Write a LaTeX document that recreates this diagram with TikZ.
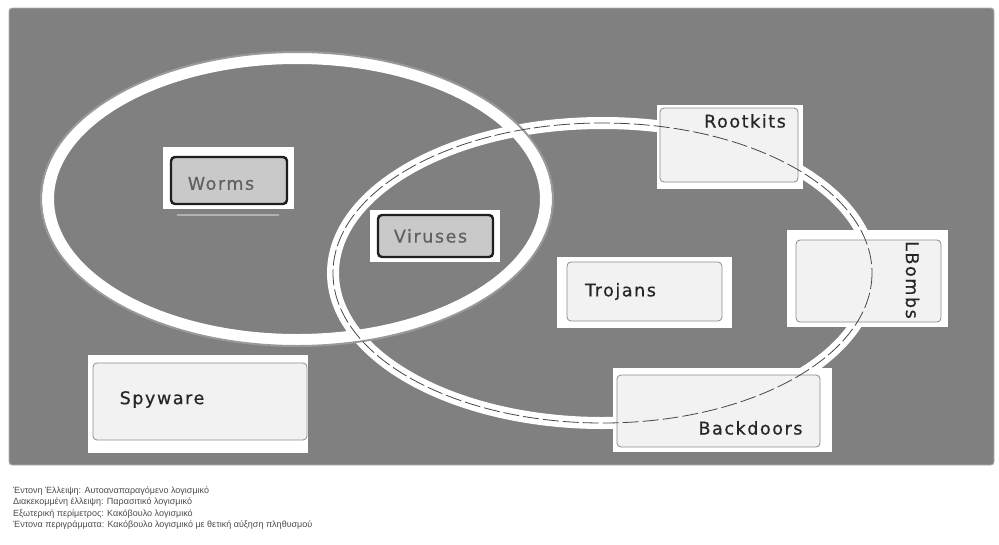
\documentclass[tikz,border=0pt]{standalone}
\usepackage{fontspec}
\setmainfont{DejaVu Sans}
\newfontfamily\boxfont[LetterSpace=9,FakeBold=0.6]{DejaVu Sans}
\newfontfamily\legendfont{Liberation Sans}
\begin{document}
\begin{tikzpicture}[x=1pt,y=-1pt,
  halo/.style={fill=white,draw=none},
  hotbox/.style={draw=black!88,line width=2.4pt,fill=black!21,rounded corners=4pt},
  plainbox/.style={draw=black!45,line width=0.8pt,fill=black!5,rounded corners=4pt},
  lbl/.style={font=\boxfont\fontsize{17.5}{20}\selectfont,text=black!85,inner sep=0pt},
  hotlbl/.style={lbl,text=black!62},
  selfrep/.style={draw=black!40,line width=2pt},
  parasitic/.style={draw=black!72,line width=0.8pt,dash pattern=on 16pt off 4pt},
  legend/.style={font=\legendfont\fontsize{9}{11}\selectfont,text=black!70,anchor=west,inner sep=0pt}]
\useasboundingbox (0,0) rectangle (999,544);
\fill[white] (0,0) rectangle (999,544);

% malware panel
\draw[fill=black!50,draw=black!30,line width=0.8pt,rounded corners=3pt] (9,8) rectangle (994,465);

% light bands following the two ellipses
\draw[white,line width=12pt] (297,199) ellipse [x radius=249,y radius=141];
\draw[white,line width=12pt] (602.5,273) ellipse [x radius=269.5,y radius=150];

% light margins round the boxes
\fill[halo] (163,147) rectangle (294,209);
\fill[halo] (370,210) rectangle (500,262);
\fill[halo] (657,105) rectangle (803,189);
\fill[halo] (787,230) rectangle (948,327);
\fill[halo] (557,257) rectangle (732,328);
\fill[halo] (613,368) rectangle (832,452);
\fill[halo] (88,355) rectangle (308,453);
\draw[black!30,line width=2pt] (177,215) -- (279,215);

% boxes
\path[hotbox] (171,157) rectangle (287,204);
\node[inner sep=0pt] (worms) at (229,180.5) {};
\path[hotbox] (378,215) rectangle (493,257);
\node[inner sep=0pt] (viruses) at (435.5,236) {};
\path[plainbox] (660,108) rectangle (798,182);
\node[inner sep=0pt] (rootkits) at (729,145) {};
\path[plainbox] (796,240) rectangle (941,322);
\node[inner sep=0pt] (lbombs) at (868.5,281) {};
\path[plainbox] (567,262) rectangle (722,321);
\node[inner sep=0pt] (trojans) at (644.5,291.5) {};
\path[plainbox] (617,375) rectangle (820,447);
\node[inner sep=0pt] (backdoors) at (718.5,411) {};
\path[plainbox] (93,363) rectangle (307,440);
\node[inner sep=0pt] (spyware) at (200,401.5) {};

% self-replicating (solid) and parasitic (dashed) ellipses
\draw[selfrep] (297,199) ellipse [x radius=256,y radius=147];
\draw[parasitic] (602.5,273) ellipse [x radius=269.5,y radius=150];

% labels
\node[hotlbl] (tworms) at ([shift={(-8,3)}]worms) {Worms};
\node[hotlbl] (tviruses) at ([shift={(-5,0)}]viruses) {Viruses};
\node[lbl] (trootkits) at ([shift={(16,-24)}]rootkits) {Rootkits};
\node[lbl,rotate=-90] (tlbombs) at ([shift={(44,-1)}]lbombs) {LBombs};
\node[lbl] (ttrojans) at ([shift={(-24,0)}]trojans) {Trojans};
\node[lbl] (tbackdoors) at ([shift={(32,17)}]backdoors) {Backdoors};
\node[lbl] (tspyware) at ([shift={(-38,-2)}]spyware) {Spyware};

% legend
\node[legend] (leg1) at (13,491) {Έντονη Έλλειψη: Αυτοαναπαραγόμενο λογισμικό};
\node[legend] (leg2) at (13,502.5) {Διακεκομμένη έλλειψη: Παρασιτικό λογισμικό};
\node[legend] (leg3) at (13,514) {Εξωτερική περίμετρος: Κακόβουλο λογισμικό};
\node[legend] (leg4) at (13,525.5) {Έντονα περιγράμματα: Κακόβουλο λογισμικό με θετική αύξηση πληθυσμού};
\end{tikzpicture}
\end{document}
